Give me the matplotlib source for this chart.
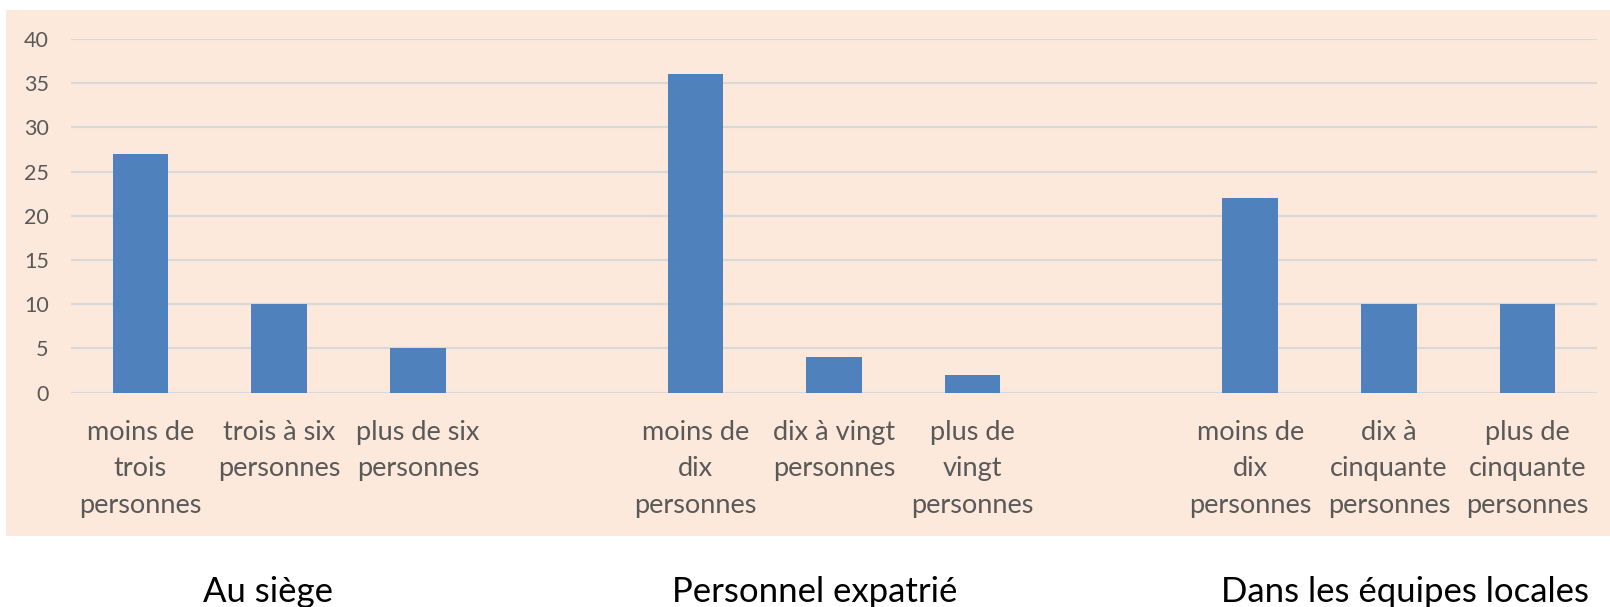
import matplotlib
matplotlib.use("Agg")
import matplotlib.pyplot as plt
from matplotlib.patches import Rectangle

categories = ["moins de\ntrois\npersonnes", "trois à six\npersonnes", "plus de six\npersonnes", "",
              "moins de\ndix\npersonnes", "dix à vingt\npersonnes", "plus de\nvingt\npersonnes", "",
              "moins de\ndix\npersonnes", "dix à\ncinquante\npersonnes", "plus de\ncinquante\npersonnes"]
values = [27, 10, 5, 0, 36, 4, 2, 0, 22, 10, 10]
groups = ["Au siège", "Personnel expatrié", "Dans les équipes locales"]
yticks = [0, 5, 10, 15, 20, 25, 30, 35, 40]

W, H = 1610, 607
DPI = 100
fig = plt.figure(figsize=(W / DPI, H / DPI), dpi=DPI)
fig.patch.set_facecolor("white")

# peach chart area background
bg = Rectangle((6 / W, 1 - 536 / H), (W - 6) / W, (536 - 10) / H,
               transform=fig.transFigure, facecolor="#FCE9DB",
               edgecolor="none", zorder=-10)
fig.patches.append(bg)

ax = fig.add_axes([71 / W, 1 - 392.7 / H, (1597 - 71) / W, (392.7 - 39) / H])
ax.set_zorder(1)
ax.set_facecolor("none")
x = list(range(len(categories)))
ax.bar(x, values, width=0.4, color="#4F81BD", zorder=3)
ax.set_xlim(-0.5, len(categories) - 0.5)
ax.set_ylim(0, 40)
ax.set_yticks(yticks)
ax.grid(axis="y", color="#D9D9D9", linewidth=1.6, zorder=0)
ax.set_axisbelow(True)
for s in ax.spines.values():
    s.set_visible(False)
ax.set_xticks(x)
ax.set_xticklabels(categories, fontsize=19.5, color="#595959", family="Lato",
                   linespacing=1.58)
ax.tick_params(axis="x", length=0, pad=19.5)
ax.tick_params(axis="y", length=0, pad=16, labelsize=15.5, labelcolor="#595959")
for t in ax.get_yticklabels():
    t.set_family("Lato")

group_x = [267.5, 815, 1405]
for g, gx in zip(groups, group_x):
    fig.text(gx / W, 1 - 602 / H, g, ha="center", va="baseline", fontsize=25,
             family="Lato", color="black")

fig.savefig("out.png", dpi=DPI, facecolor="white")
